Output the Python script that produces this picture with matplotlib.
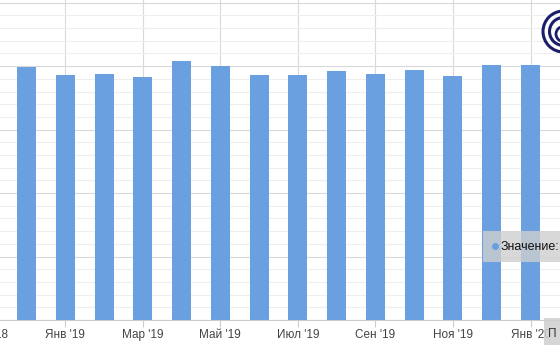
import numpy as np
import matplotlib
matplotlib.use('Agg')
from matplotlib import pyplot as plt
from matplotlib.patches import Rectangle, Circle

plt.rcParams['font.family'] = ['Liberation Sans', 'DejaVu Sans']

# monthly values, Dec '18 .. Feb '20
months = ["Дек '18", "Янв '19", "Фев '19", "Мар '19", "Апр '19", "Май '19", "Июн '19",
          "Июл '19", "Авг '19", "Сен '19", "Окт '19", "Ноя '19", "Дек '19", "Янв '20", "Фев '20"]
values = [19.95, 19.30, 19.38, 19.15, 20.40, 20.00, 19.30,
          19.30, 19.62, 19.38, 19.72, 19.22, 20.08, 20.08, 20.08]

# tick labels every two months, starting from Nov '18
tick_labels = ["Ноя '18", "Янв '19", "Мар '19", "Май '19", "Июл '19", "Сен '19", "Ноя '19", "Янв '20"]

W, H = 560, 363
fig = plt.figure(figsize=(W / 100, H / 100), dpi=100)
ax = fig.add_axes([0, 43 / H, 1, 320 / H])

x = np.arange(1, len(values) + 1)
ax.bar(x, values, width=0.49, color='#6a9fe0', zorder=3)

ax.set_yticks(np.arange(0, 26, 5))
ax.set_yticks(np.arange(0, 26, 1), minor=True)
ax.grid(axis='y', which='major', color='#d9d9d9', lw=0.8, zorder=0)
ax.grid(axis='y', which='minor', color='#eeeeee', lw=0.8, zorder=0)
ax.tick_params(axis='y', which='both', left=False, labelleft=False)

tick_pos = np.arange(0, 15, 2)
ax.set_xticks(tick_pos)
ax.set_xticklabels([''] * len(tick_pos))
ax.grid(axis='x', which='major', color='#d9d9d9', lw=0.8, zorder=0)
ax.tick_params(axis='x', direction='out', length=5, color='#cccccc', width=0.8)

# limits after ticks, otherwise set_xticks widens them
ax.set_xlim(0.316, 14.76)
ax.set_ylim(0, 25.21)

for p, lab in zip(tick_pos, tick_labels):
    ax.text(p, -15 / 320, lab, transform=ax.get_xaxis_transform(), ha='center', va='center',
            fontsize=8.5, color='#444444', clip_on=False)

for s in ['top', 'left', 'right']:
    ax.spines[s].set_visible(False)
ax.spines['bottom'].set_color('#cccccc')

# overlay in pixel coordinates for tooltip boxes and logo
ov = fig.add_axes([0, 0, 1, 1])
ov.set_xlim(0, W)
ov.set_ylim(H, 0)
ov.axis('off')

ov.add_patch(Rectangle((483, 231), 80, 31, facecolor='#cfcfcf', alpha=0.8, edgecolor='none'))
ov.plot([495], [246], 'o', color='#6a9fe0', ms=4)
ov.text(501, 246.5, 'Значение:', fontsize=9, color='#111111', va='center', ha='left')

ov.add_patch(Rectangle((544, 318), 20, 27, facecolor='#cfcfcf', alpha=0.85, edgecolor='none'))
ov.text(548, 334, 'П', fontsize=8.5, color='#333333', va='center', ha='left')

navy = '#1b1f6b'
ov.add_patch(Circle((563.5, 31.5), 20.5, fill=False, edgecolor=navy, lw=2.2))
ov.add_patch(Circle((563.5, 31.5), 14, fill=False, edgecolor=navy, lw=2.2))
ov.add_patch(Circle((563.5, 34), 7.5, fill=False, edgecolor=navy, lw=2.0))

fig.savefig('out.png', dpi=100)
